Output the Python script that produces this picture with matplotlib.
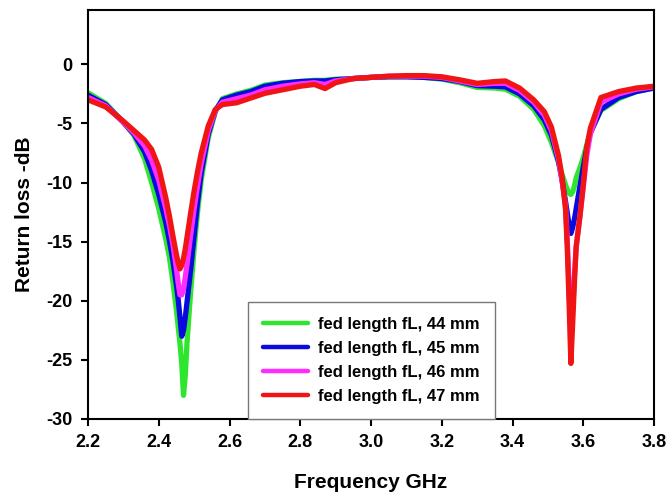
import matplotlib
matplotlib.use("Agg")
import matplotlib.pyplot as plt

plt.rcParams['font.family'] = ['Liberation Sans', 'DejaVu Sans']
plt.rcParams['font.weight'] = 'bold'

freq = [2.20, 2.25, 2.30, 2.33, 2.36, 2.38, 2.40, 2.42, 2.43, 2.44, 2.45, 2.455, 2.46, 2.465,
        2.47, 2.475, 2.48, 2.49, 2.50, 2.51, 2.52, 2.54, 2.56, 2.58, 2.62, 2.66, 2.70, 2.75,
        2.80, 2.84, 2.87, 2.90, 2.95, 3.00, 3.05, 3.10, 3.15, 3.20, 3.25, 3.30, 3.35, 3.38,
        3.42, 3.46, 3.49, 3.51, 3.53, 3.54, 3.55, 3.555, 3.56, 3.565, 3.57, 3.575, 3.58, 3.59,
        3.60, 3.61, 3.62, 3.65, 3.70, 3.75, 3.80]

rl_44 = [-2.4, -3.3, -4.9, -6.0, -8.0, -10.0, -12.2, -14.8, -16.3, -18.4, -20.8, -22.2, -23.6, -25.3,
         -28.0, -26.3, -23.5, -19.3, -15.6, -12.4, -9.8, -6.2, -4.0, -2.9, -2.5, -2.2, -1.75, -1.55,
         -1.45, -1.35, -1.35, -1.25, -1.2, -1.1, -1.05, -1.05, -1.1, -1.25, -1.55, -1.95, -2.0, -2.1,
         -2.7, -3.8, -5.2, -6.6, -8.3, -9.3, -10.2, -10.6, -10.9, -11.0, -10.8, -10.3, -9.6, -8.8,
         -7.9, -6.8, -5.8, -3.9, -2.9, -2.3, -2.0]

rl_45 = [-2.6, -3.4, -4.9, -5.9, -7.4, -9.0, -11.0, -13.4, -14.9, -16.6, -18.7, -19.9, -21.4, -23.0,
         -22.5, -21.4, -20.1, -17.4, -14.5, -11.6, -9.2, -5.9, -3.9, -3.0, -2.6, -2.3, -1.85, -1.6,
         -1.45, -1.4, -1.4, -1.3, -1.2, -1.1, -1.05, -1.05, -1.1, -1.2, -1.45, -1.8, -1.85, -1.9,
         -2.5, -3.5, -4.7, -6.0, -8.2, -9.8, -11.6, -12.6, -13.6, -14.3, -13.8, -13.1, -12.2, -10.4,
         -8.7, -7.1, -5.8, -3.8, -2.8, -2.3, -2.0]

rl_46 = [-2.8, -3.5, -4.9, -5.8, -6.9, -8.1, -9.8, -12.2, -13.6, -15.2, -17.3, -18.5, -19.5, -19.5,
         -19.0, -18.0, -16.9, -14.5, -12.2, -10.2, -8.4, -5.6, -3.9, -3.2, -2.9, -2.6, -2.15, -1.85,
         -1.65, -1.55, -1.7, -1.4, -1.2, -1.1, -1.0, -1.0, -1.0, -1.1, -1.4, -1.7, -1.6, -1.6,
         -2.2, -3.2, -4.3, -5.6, -8.0, -9.8, -12.0, -15.0, -18.8, -22.5, -20.8, -18.0, -15.5, -13.0,
         -10.4, -7.7, -5.9, -3.2, -2.5, -2.1, -1.9]

rl_47 = [-3.0, -3.6, -4.8, -5.6, -6.4, -7.2, -8.7, -11.3, -12.8, -14.5, -16.1, -16.8, -17.3, -17.0,
         -16.4, -15.6, -14.6, -12.6, -10.7, -9.0, -7.5, -5.2, -3.8, -3.4, -3.25, -2.85, -2.45, -2.15,
         -1.85, -1.7, -2.05, -1.55, -1.2, -1.1, -1.0, -0.95, -0.95, -1.05, -1.3, -1.6, -1.45, -1.4,
         -2.0, -3.0, -4.0, -5.3, -7.7, -9.5, -12.3, -15.7, -20.3, -25.3, -22.0, -18.5, -15.4, -13.0,
         -10.2, -7.0, -5.4, -2.8, -2.3, -2.0, -1.85]

labels = ['fed length fL, 44 mm', 'fed length fL, 45 mm',
          'fed length fL, 46 mm', 'fed length fL, 47 mm']
colors = ['#2ee62e', '#0a0ae0', '#ff2cff', '#f01414']
series = [rl_44, rl_45, rl_46, rl_47]

xticks = [2.2, 2.4, 2.6, 2.8, 3.0, 3.2, 3.4, 3.6, 3.8]
yticks = [-30, -25, -20, -15, -10, -5, 0]

fig = plt.figure(figsize=(6.69, 5.0), dpi=100)
ax = fig.add_axes([88/669, 1-419/500, (654-88)/669, (419-10)/500])

for vals, c, lab in zip(series, colors, labels):
    ax.plot(freq, vals, color=c, lw=3.8, label=lab, solid_capstyle='round', solid_joinstyle='round')

ax.set_xlim(2.2, 3.8)
ax.set_ylim(-30, 4.6)
ax.set_xticks(xticks)
ax.set_xticklabels([f"{t:.1f}" for t in xticks])
ax.set_yticks(yticks)
ax.set_yticklabels([str(t) for t in yticks])
ax.tick_params(direction='out', length=5, width=1.5, labelsize=13, pad=6)
for lbl in ax.get_xticklabels() + ax.get_yticklabels():
    lbl.set_fontweight('bold')
for sp in ax.spines.values():
    sp.set_linewidth(1.5)

ax.set_xlabel('Frequency GHz', fontsize=15, fontweight='bold', labelpad=16)
ax.set_ylabel('Return loss -dB', fontsize=15, fontweight='bold', labelpad=9)

leg = ax.legend(loc='lower left', bbox_to_anchor=((248-88)/566, 0.0), borderaxespad=0,
                fancybox=False, edgecolor='#777777', framealpha=1, fontsize=12,
                handlelength=2.7, handletextpad=0.6, labelspacing=0.55, borderpad=0.9)
for t in leg.get_texts():
    t.set_fontweight('bold')
for h in leg.get_lines():
    h.set_linewidth(3.2)
leg.get_frame().set_linewidth(1.0)

fig.savefig('out.png', dpi=100)
